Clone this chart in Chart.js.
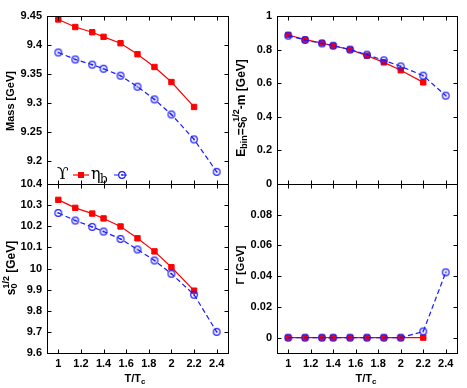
<!DOCTYPE html>
<html>
<head>
<meta charset="utf-8">
<script src="https://cdn.jsdelivr.net/npm/chart.js@4.4.0/dist/chart.umd.min.js"></script>
<style>
  html, body { margin: 0; padding: 0; background: #fff; }
  #wrap { position: relative; width: 467px; height: 388px; }
  #wrap canvas { position: absolute; left: 0; top: 0; }
</style>
</head>
<body>
<div id="wrap">
  <canvas id="mass" width="467" height="388"></canvas>
  <canvas id="ebin" width="467" height="388"></canvas>
  <canvas id="s0" width="467" height="388"></canvas>
  <canvas id="width" width="467" height="388"></canvas>
</div>
<script>
// T/Tc values (Upsilon stops at 2.2, eta_b goes to 2.4)
const temps = [1, 1.15, 1.3, 1.4, 1.55, 1.7, 1.85, 2, 2.2, 2.4];

const massUpsilon = [9.444, 9.431, 9.422, 9.414, 9.403, 9.384, 9.362, 9.336, 9.293];
const massEtab    = [9.387, 9.375, 9.366, 9.359, 9.347, 9.328, 9.306, 9.280, 9.237, 9.181];

const ebinUpsilon = [0.887, 0.859, 0.839, 0.823, 0.800, 0.764, 0.724, 0.677, 0.605];
const ebinEtab    = [0.883, 0.857, 0.837, 0.823, 0.800, 0.770, 0.736, 0.700, 0.645, 0.526];

const s0Upsilon = [10.325, 10.287, 10.260, 10.237, 10.199, 10.143, 10.081, 10.006, 9.895];
const s0Etab    = [10.263, 10.227, 10.197, 10.175, 10.140, 10.090, 10.038, 9.975, 9.876, 9.700];

const widthUpsilon = [0, 0, 0, 0, 0, 0, 0, 0, 0];
const widthEtab    = [0, 0, 0, 0, 0, 0, 0, 0, 0.004, 0.0425];

const xTicks     = [1, 1.2, 1.4, 1.6, 1.8, 2, 2.2, 2.4];
const massTicks  = [9.2, 9.25, 9.3, 9.35, 9.4, 9.45];
const ebinTicks  = [0, 0.2, 0.4, 0.6, 0.8, 1];
const s0Ticks    = [9.6, 9.7, 9.8, 9.9, 10, 10.1, 10.2, 10.3, 10.4];
const widthTicks = [0, 0.02, 0.04, 0.06, 0.08];

const FAMILY = "'Liberation Sans', Arial, sans-serif";
const SERIF = "'DejaVu Serif', 'Liberation Serif', serif";
const RED = '#ff0000';
const BLUE = '#1a1aff';

Chart.defaults.font.family = FAMILY;
Chart.defaults.font.size = 11;
Chart.defaults.font.weight = 'bold';
Chart.defaults.color = '#000';

// open circle with a dot, gnuplot style
const circleImg = document.createElement('canvas');
circleImg.width = 10; circleImg.height = 10;
(function () {
  const c = circleImg.getContext('2d');
  c.strokeStyle = BLUE; c.fillStyle = BLUE; c.lineWidth = 1.2;
  c.beginPath(); c.arc(5, 5, 3.3, 0, Math.PI * 2); c.stroke();
  c.beginPath(); c.arc(5, 5, 0.9, 0, Math.PI * 2); c.fill();
})();

const pts = (xs, ys) => ys.map((y, i) => ({ x: xs[i], y: y }));
const fmt = v => String(Number(v.toFixed(3)));

function drawRich(ctx, segs, cx, cy, rot) {
  let w = 0, prevStart = 0, prevW = 0;
  const placed = [];
  segs.forEach(s => {
    ctx.font = 'bold ' + s.size + 'px ' + (s.f || FAMILY);
    const sw = ctx.measureText(s.t).width;
    if (s.stack) {
      placed.push({ s: s, x: prevStart });
      const adv = Math.max(prevW, sw);
      w = prevStart + adv; prevW = adv;
    } else {
      placed.push({ s: s, x: w });
      prevStart = w; prevW = sw; w += sw;
    }
  });
  ctx.save();
  ctx.translate(cx, cy);
  if (rot) ctx.rotate(-Math.PI / 2);
  ctx.textBaseline = 'middle';
  ctx.textAlign = 'left';
  ctx.fillStyle = '#000';
  placed.forEach(p => {
    ctx.font = 'bold ' + p.s.size + 'px ' + (p.s.f || FAMILY);
    ctx.fillText(p.s.t, p.x - w / 2, p.s.dy || 0);
  });
  ctx.restore();
}

const xTitle = [{ t: 'T/T', size: 11 }, { t: 'c', size: 8, dy: 3 }];

const texts = {
  mass: { y: [{ t: 'Mass [GeV]', size: 11 }], yx: 11, yy: 101, legend: true },
  ebin: { y: [{ t: 'E', size: 12 }, { t: 'bin', size: 9, dy: 3 }, { t: '=s', size: 12 },
              { t: '0', size: 9, dy: 3 }, { t: '1/2', size: 9, dy: -5, stack: true },
              { t: '-m [GeV]', size: 12 }], yx: 242, yy: 108 },
  s0: { y: [{ t: 's', size: 12 }, { t: '0', size: 9, dy: 3 }, { t: '1/2', size: 9, dy: -5, stack: true },
            { t: ' [GeV]', size: 12 }], yx: 12, yy: 268, x: 135 },
  width: { y: [{ t: '\u0393 [GeV]', size: 11 }], yx: 241, yy: 265, x: 366 }
};

const framePlugin = {
  id: 'frame',
  afterDraw(chart) {
    const ctx = chart.ctx, a = chart.chartArea, xs = chart.scales.x, ys = chart.scales.y;
    const L = Math.round(a.left) + 0.5, R = Math.round(a.right) + 0.5;
    const T = Math.round(a.top) + 0.5, B = Math.round(a.bottom) + 0.5;
    ctx.save();
    ctx.strokeStyle = '#000';
    ctx.lineWidth = 1;
    ctx.strokeRect(L, T, R - L, B - T);
    ctx.beginPath();
    xs.ticks.forEach(t => {
      const px = Math.round(xs.getPixelForValue(t.value)) + 0.5;
      ctx.moveTo(px, B); ctx.lineTo(px, B - 4);
      ctx.moveTo(px, T); ctx.lineTo(px, T + 4);
    });
    ys.ticks.forEach(t => {
      const py = Math.round(ys.getPixelForValue(t.value)) + 0.5;
      ctx.moveTo(L, py); ctx.lineTo(L + 4, py);
      ctx.moveTo(R, py); ctx.lineTo(R - 4, py);
    });
    ctx.stroke();

    const cfg = texts[chart.canvas.id];
    drawRich(ctx, cfg.y, cfg.yx, cfg.yy, true);
    if (cfg.x) drawRich(ctx, xTitle, cfg.x, 379, false);

    if (cfg.legend) {
      const ly = 175;
      ctx.fillStyle = '#000';
      ctx.textBaseline = 'middle';
      ctx.font = '17px ' + SERIF;
      ctx.fillText('\u03D2', 57, ly);
      ctx.strokeStyle = RED; ctx.lineWidth = 1.2;
      ctx.beginPath(); ctx.moveTo(73, ly); ctx.lineTo(89, ly); ctx.stroke();
      ctx.fillStyle = RED; ctx.fillRect(78, ly - 3, 6, 6);
      ctx.fillStyle = '#000';
      ctx.font = '16px ' + SERIF;
      ctx.fillText('\u03B7', 91, ly);
      ctx.font = '12px ' + SERIF;
      ctx.fillText('b', 100, ly + 5);
      ctx.strokeStyle = BLUE; ctx.setLineDash([5, 3]);
      ctx.beginPath(); ctx.moveTo(114, ly); ctx.lineTo(130, ly); ctx.stroke();
      ctx.setLineDash([]);
      ctx.drawImage(circleImg, 122 - 5, ly - 5);
    }
    ctx.restore();
  }
};

function panel(id, box, red, blue, yMin, yMax, yTicks, xLabels) {
  const yw = 44, xh = xLabels ? 26 : 0;
  return new Chart(document.getElementById(id), {
    type: 'line',
    data: {
      datasets: [
        {
          label: 'eta_b', data: pts(temps, blue), borderColor: BLUE, backgroundColor: BLUE,
          borderWidth: 1.2, borderDash: [5, 3], pointStyle: circleImg, pointRadius: 4, order: 0
        },
        {
          label: 'Upsilon', data: pts(temps, red), borderColor: RED, backgroundColor: RED,
          borderWidth: 1.2, pointStyle: 'rect', pointRadius: 3.8, pointBorderWidth: 1, order: 1
        }
      ]
    },
    options: {
      responsive: false,
      animation: false,
      devicePixelRatio: 1,
      layout: { padding: { left: box.l - yw, top: box.t, right: 467 - box.r, bottom: 388 - box.b - xh } },
      plugins: { legend: { display: false }, tooltip: { enabled: false } },
      scales: {
        x: {
          type: 'linear', min: 0.9, max: 2.5,
          grid: { display: false, drawTicks: false }, border: { display: false },
          afterBuildTicks: s => { s.ticks = xTicks.map(v => ({ value: v })); },
          ticks: { display: xLabels, padding: 4, maxRotation: 0, autoSkip: false, callback: fmt },
          afterFit: s => { s.height = xh; }
        },
        y: {
          min: yMin, max: yMax,
          grid: { display: false, drawTicks: false }, border: { display: false },
          afterBuildTicks: s => { s.ticks = yTicks.map(v => ({ value: v })); },
          ticks: { padding: 5, autoSkip: false, callback: fmt },
          afterFit: s => { s.width = yw; }
        }
      }
    },
    plugins: [framePlugin]
  });
}

panel('mass',  { l: 47, r: 228, t: 16, b: 184 }, massUpsilon, massEtab, 9.16, 9.45, massTicks, false);
panel('ebin',  { l: 277, r: 457, t: 16, b: 184 }, ebinUpsilon, ebinEtab, 0, 1, ebinTicks, false);
panel('s0',    { l: 47, r: 228, t: 184, b: 353 }, s0Upsilon, s0Etab, 9.6, 10.4, s0Ticks, true);
panel('width', { l: 277, r: 457, t: 184, b: 353 }, widthUpsilon, widthEtab, -0.01, 0.1, widthTicks, true);
</script>
</body>
</html>
